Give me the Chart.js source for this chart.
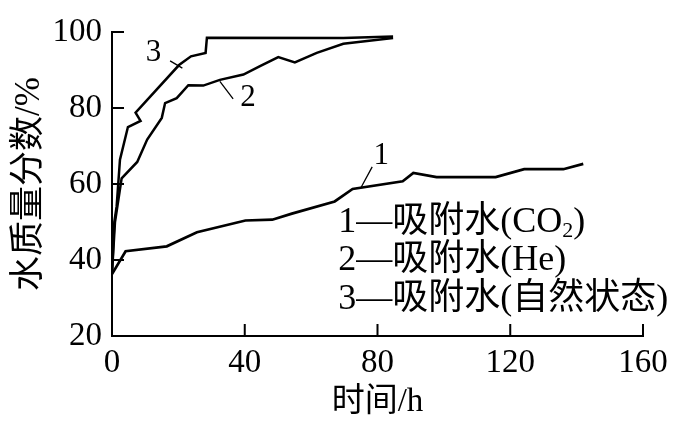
<!DOCTYPE html>
<html>
<head>
<meta charset="utf-8">
<script src="https://cdn.jsdelivr.net/npm/chart.js@4.4.1/dist/chart.umd.min.js"></script>
<style>
html, body { margin: 0; padding: 0; background: #fff; }
#wrap { width: 686px; height: 429px; }
</style>
</head>
<body>
<div id="wrap"><canvas id="myChart"></canvas></div>
<script>
// 1 - 吸附水(CO2)
const co2Time  = [0, 4.1, 16.5, 25.6, 40.2, 48.3, 54.2, 67.1, 72.5, 87.6, 90.8, 97.8, 115.6, 124.2, 136, 142];
const co2Water = [36.3, 42.3, 43.6, 47.3, 50.4, 50.6, 52.2, 55.4, 58.7, 60.7, 62.9, 61.8, 61.8, 63.9, 63.9, 65.3];

// 2 - 吸附水(He)
const heTime  = [0, 0.9, 2.9, 7.6, 10.6, 15, 16, 19.5, 23, 27.5, 32.5, 39.6, 44.6, 50.1, 55.1, 61.7, 69.7, 84.7];
const heWater = [36.5, 50, 61.5, 65.8, 71.7, 77.4, 81.3, 82.6, 86, 85.9, 87.4, 88.8, 91, 93.4, 92, 94.5, 96.9, 98.4];

// 3 - 吸附水(自然状态)
const natTime  = [0, 0.7, 1.4, 2.4, 4.8, 8.6, 7.1, 20.2, 23.8, 28.2, 28.6, 69.7, 84.7];
const natWater = [36.5, 50, 54.1, 66.4, 75, 76.6, 78.8, 91.3, 93.6, 94.5, 98.5, 98.4, 98.8];

const xTicks = [0, 40, 80, 120, 160];
const yTicks = [20, 40, 60, 80, 100];

const xTitle = '时间/h';
const yTitle = '水质量分数/%';

// text parts of the legend lines, 'sub' marks a subscript
const legendLines = [
    [['1—吸附水(CO', ''], ['2', 'sub'], [')', '']],
    [['2—吸附水(He)', '']],
    [['3—吸附水(自然状态)', '']]
];

const serif = '"Liberation Serif", "Noto Sans CJK SC", serif';

// where the curve numbers, leader lines and legend sit (data units)
const curveLabels = [
    { text: '1', x: 81.1, y: 67.3 },
    { text: '2', x: 41, y: 82.7 },
    { text: '3', x: 12.5, y: 94.5 }
];
const leaders = [
    [78.4, 64.5, 75, 59],
    [32.5, 87, 36.5, 82.4],
    [17.5, 92.4, 21.2, 90.5]
];
const legendPos = { x: 68.2, y: [49.8, 39.8, 29.6] };

function toPoints(xs, ys) {
    return xs.map((x, i) => ({ x: x, y: ys[i] }));
}

const annotate = {
    id: 'annotate',
    afterDraw(chart) {
        const { ctx, chartArea, scales: { x, y } } = chart;
        ctx.save();
        ctx.strokeStyle = '#000';
        ctx.fillStyle = '#000';

        // inward tick marks
        ctx.lineWidth = 2;
        ctx.beginPath();
        x.ticks.forEach(t => {
            const px = x.getPixelForValue(t.value);
            ctx.moveTo(px, chartArea.bottom);
            ctx.lineTo(px, chartArea.bottom - 12);
        });
        y.ticks.forEach(t => {
            const py = y.getPixelForValue(t.value);
            ctx.moveTo(chartArea.left, py);
            ctx.lineTo(chartArea.left + 12, py);
        });
        ctx.stroke();

        // leader lines
        ctx.lineWidth = 1.3;
        ctx.beginPath();
        leaders.forEach(l => {
            ctx.moveTo(x.getPixelForValue(l[0]), y.getPixelForValue(l[1]));
            ctx.lineTo(x.getPixelForValue(l[2]), y.getPixelForValue(l[3]));
        });
        ctx.stroke();

        // curve numbers
        ctx.font = '31px ' + serif;
        ctx.textAlign = 'center';
        ctx.textBaseline = 'middle';
        curveLabels.forEach(c => {
            ctx.fillText(c.text, x.getPixelForValue(c.x), y.getPixelForValue(c.y));
        });

        // legend text
        ctx.textAlign = 'left';
        legendLines.forEach((parts, i) => {
            let px = x.getPixelForValue(legendPos.x);
            const py = y.getPixelForValue(legendPos.y[i]);
            parts.forEach(p => {
                if (p[1] === 'sub') {
                    ctx.font = '22px ' + serif;
                    ctx.fillText(p[0], px, py + 8);
                } else {
                    ctx.font = '36px ' + serif;
                    ctx.fillText(p[0], px, py);
                }
                px += ctx.measureText(p[0]).width;
            });
        });
        ctx.restore();
    }
};

const ctx1 = document.getElementById('myChart').getContext('2d');
const chartData1 = {
    datasets: [
        {
            label: '1',
            data: toPoints(co2Time, co2Water),
            borderColor: '#000',
            borderWidth: 2.7
        },
        {
            label: '2',
            data: toPoints(heTime, heWater),
            borderColor: '#000',
            borderWidth: 2.5
        },
        {
            label: '3',
            data: toPoints(natTime, natWater),
            borderColor: '#000',
            borderWidth: 2.5
        }
    ]
};
const config1 = {
    type: 'line',
    data: chartData1,
    options: {
        responsive: true,
        maintainAspectRatio: false,
        animation: false,
        layout: { padding: { left: 0, right: 43, top: 32, bottom: 0 } },
        elements: {
            line: { tension: 0, fill: false },
            point: { radius: 0 }
        },
        plugins: {
            legend: { display: false },
            tooltip: { enabled: false }
        },
        scales: {
            x: {
                type: 'linear',
                min: 0,
                max: 160,
                afterBuildTicks: s => { s.ticks = xTicks.map(v => ({ value: v })); },
                afterFit: s => { s.height = 93; },
                grid: { display: false, drawTicks: false },
                border: { display: true, color: '#000', width: 2 },
                ticks: { color: '#000', padding: 8, maxRotation: 0, font: { family: serif, size: 33 } },
                title: {
                    display: true,
                    text: xTitle,
                    color: '#000',
                    padding: { top: 0, bottom: 7 },
                    font: { family: serif, size: 33 }
                }
            },
            y: {
                type: 'linear',
                min: 20,
                max: 100,
                afterBuildTicks: s => { s.ticks = yTicks.map(v => ({ value: v })); },
                afterFit: s => { s.width = 112; },
                grid: { display: false, drawTicks: false },
                border: { display: true, color: '#000', width: 2 },
                ticks: { color: '#000', padding: 10, font: { family: serif, size: 33 } },
                title: {
                    display: true,
                    text: yTitle,
                    color: '#000',
                    padding: { top: 9, bottom: 0 },
                    font: { family: serif, size: 35 }
                }
            }
        }
    },
    plugins: [annotate]
};
const myChart = new Chart(ctx1, config1);
</script>
</body>
</html>
